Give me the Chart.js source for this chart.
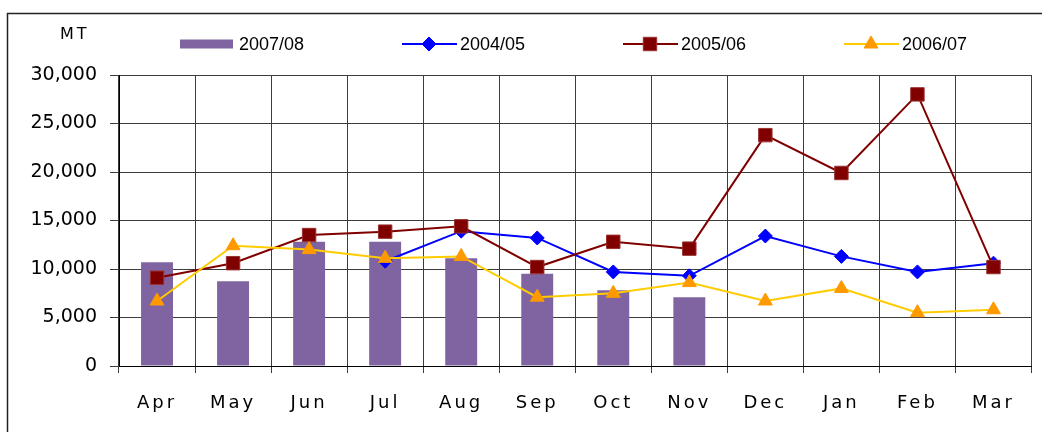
<!DOCTYPE html>
<html lang="en">
<head>
<meta charset="utf-8">
<title>Monthly MT</title>
<script src="https://cdn.jsdelivr.net/npm/chart.js@4.4.1/dist/chart.umd.min.js"></script>
<style>
  body { margin: 0; background: #fff; }
  canvas { display: block; }
</style>
</head>
<body>
<canvas id="chart" width="1042" height="432"></canvas>
<script>
const months = ['Apr', 'May', 'Jun', 'Jul', 'Aug', 'Sep', 'Oct', 'Nov', 'Dec', 'Jan', 'Feb', 'Mar'];
const mt0708 = [10700, 8750, 12800, 12800, 11100, 9500, 7800, 7100, null, null, null, null];
const mt0405 = [null, null, null, 10800, 13900, 13200, 9700, 9300, 13400, 11300, 9700, 10600];
const mt0506 = [9100, 10600, 13500, 13850, 14400, 10200, 12800, 12100, 23800, 19900, 28000, 10200];
const mt0607 = [6700, 12400, 12000, 11100, 11300, 7100, 7500, 8600, 6700, 8000, 5500, 5800];
const yMin = 0, yMax = 30000, yStep = 5000;
const unitLabel = 'MT';

// frame, unit label and the spreadsheet-style legend
const sheetDecor = {
    id: 'sheetDecor',
    beforeDraw(chart) {
        // letter-spaced month labels on the x axis
        const xs = chart.scales.x;
        if (!xs._spaced) {
            const orig = xs.drawLabels.bind(xs);
            xs.drawLabels = function (area) {
                this.ctx.save();
                this.ctx.letterSpacing = '3px';
                orig(area);
                this.ctx.restore();
            };
            xs._spaced = true;
        }
    },
    afterDraw(chart) {
        const ctx = chart.ctx;
        ctx.save();
        ctx.strokeStyle = '#222';
        ctx.lineWidth = 1.5;
        ctx.beginPath();
        ctx.moveTo(7.5, 432);
        ctx.lineTo(7.5, 13.5);
        ctx.lineTo(1042, 13.5);
        ctx.stroke();

        ctx.fillStyle = '#000';
        ctx.textAlign = 'left';
        ctx.textBaseline = 'middle';
        ctx.font = '16px "DejaVu Sans"';
        ctx.letterSpacing = '3px';
        ctx.fillText(unitLabel, 60, 35);
        ctx.letterSpacing = '0px';

        ctx.font = '18px "Liberation Sans"';
        chart.data.datasets.forEach((ds, i) => {
            const x = 180 + i * 221, y = 44;
            if (ds.type === 'bar') {
                ctx.fillStyle = ds.backgroundColor;
                ctx.fillRect(x, y - 4.5, 53, 9);
            } else {
                ctx.strokeStyle = ds.borderColor;
                ctx.lineWidth = 2;
                ctx.beginPath();
                ctx.moveTo(x + 1, y);
                ctx.lineTo(x + 56, y);
                ctx.stroke();
                ctx.fillStyle = ds.pointBackgroundColor;
                ctx.strokeStyle = ds.pointBorderColor;
                ctx.lineWidth = 1;
                Chart.helpers.drawPoint(ctx, {
                    pointStyle: ds.pointStyle,
                    radius: ds.pointRadius,
                    rotation: 0,
                    borderWidth: 1
                }, x + 28, y);
            }
            ctx.fillStyle = '#000';
            ctx.fillText(ds.label, x + 59, y + 1);
        });
        ctx.restore();
    }
};

const ctx = document.getElementById('chart').getContext('2d');

new Chart(ctx, {
    type: 'bar',
    data: {
        labels: months,
        datasets: [{
            type: 'bar',
            label: '2007/08',
            data: mt0708,
            backgroundColor: '#8064A2',
            borderWidth: 0,
            inflateAmount: 0,
            categoryPercentage: 1,
            barPercentage: 0.42,
            order: 3
        }, {
            type: 'line',
            label: '2004/05',
            data: mt0405,
            borderColor: '#0000FF',
            borderWidth: 2,
            pointStyle: 'rectRot',
            pointRadius: 7,
            pointBackgroundColor: '#0000FF',
            pointBorderColor: '#0000FF',
            pointBorderWidth: 1,
            tension: 0,
            order: 2
        }, {
            type: 'line',
            label: '2005/06',
            data: mt0506,
            borderColor: '#800000',
            borderWidth: 2,
            pointStyle: 'rect',
            pointRadius: 9.5,
            pointBackgroundColor: '#800000',
            pointBorderColor: '#9a3030',
            pointBorderWidth: 1,
            tension: 0,
            order: 1
        }, {
            type: 'line',
            label: '2006/07',
            data: mt0607,
            borderColor: '#FFCC00',
            borderWidth: 2,
            pointStyle: 'triangle',
            pointRadius: 8,
            pointBackgroundColor: '#FF9900',
            pointBorderColor: '#FF9900',
            pointBorderWidth: 1,
            tension: 0,
            order: 0
        }]
    },
    options: {
        responsive: false,
        animation: false,
        layout: { padding: { left: 0, top: 75, right: 2, bottom: 0 } },
        plugins: {
            legend: { display: false },
            tooltip: { enabled: false }
        },
        scales: {
            x: {
                offset: true,
                afterFit(scale) { scale.height = 66; },
                grid: {
                    offset: true,
                    color: '#3c3c3c',
                    lineWidth: 1,
                    tickLength: 7
                },
                border: { color: '#000', width: 1 },
                ticks: {
                    color: '#000',
                    padding: 20,
                    maxRotation: 0,
                    font: { family: '"DejaVu Sans"', size: 18 }
                }
            },
            y: {
                min: yMin,
                max: yMax,
                afterFit(scale) { scale.width = 119; },
                grid: {
                    color: '#3c3c3c',
                    lineWidth: 1,
                    tickLength: 9
                },
                border: { color: '#000', width: 1 },
                ticks: {
                    stepSize: yStep,
                    color: '#000',
                    padding: 13,
                    font: { family: '"DejaVu Sans"', size: 19 }
                }
            }
        }
    },
    plugins: [sheetDecor]
});
</script>
</body>
</html>
